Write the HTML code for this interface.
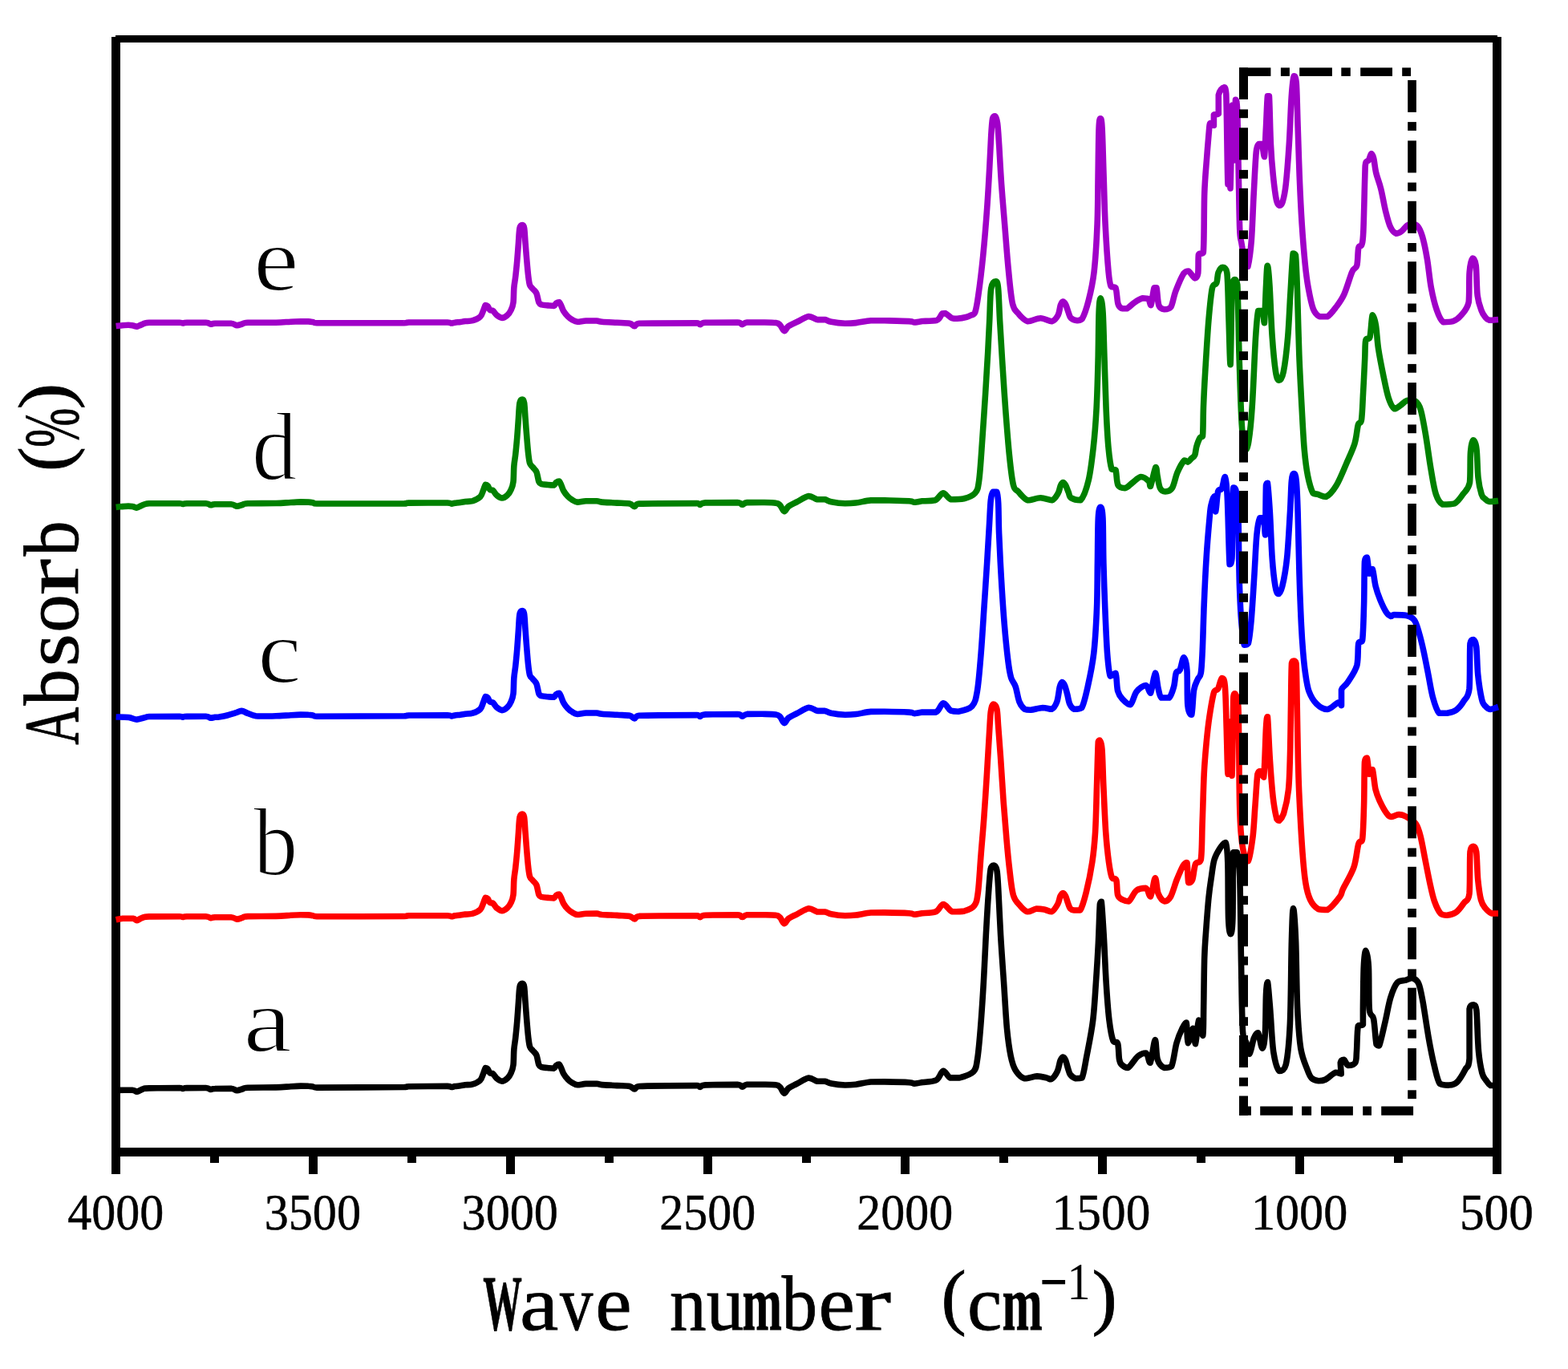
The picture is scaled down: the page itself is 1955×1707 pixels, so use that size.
<!DOCTYPE html>
<html><head><meta charset="utf-8"><title>FTIR spectra</title>
<style>html,body{margin:0;padding:0;background:#fff;}svg{display:block;}text{font-family:"Liberation Serif","Times New Roman",serif;}</style></head><body>
<svg width="1955" height="1707" viewBox="0 0 1955 1707">
<rect x="0" y="0" width="1955" height="1707" fill="#fff"/>
<g fill="#000">
<rect x="144" y="44" width="1723" height="9"/>
<rect x="139" y="46" width="11" height="1396"/>
<rect x="1861" y="46" width="11" height="1396"/>
<rect x="139" y="1431" width="1733" height="11"/>
<rect x="139.0" y="1442" width="11" height="22"/>
<rect x="262.0" y="1442" width="11" height="8"/>
<rect x="385.0" y="1442" width="11" height="22"/>
<rect x="508.0" y="1442" width="11" height="8"/>
<rect x="631.0" y="1442" width="11" height="22"/>
<rect x="754.0" y="1442" width="11" height="8"/>
<rect x="877.0" y="1442" width="11" height="22"/>
<rect x="1000.0" y="1442" width="11" height="8"/>
<rect x="1123.0" y="1442" width="11" height="22"/>
<rect x="1246.0" y="1442" width="11" height="8"/>
<rect x="1369.0" y="1442" width="11" height="22"/>
<rect x="1492.0" y="1442" width="11" height="8"/>
<rect x="1615.0" y="1442" width="11" height="22"/>
<rect x="1738.0" y="1442" width="11" height="8"/>
<rect x="1861.0" y="1442" width="11" height="22"/>
</g>
<g fill="#000" stroke="#000" stroke-width="0.5">
<text font-size="63" transform="translate(84.33 1532.88) scale(0.9528 1.0021)">4000</text>
<text font-size="63" transform="translate(329.72 1532.88) scale(0.9545 1.0021)">3500</text>
<text font-size="63" transform="translate(575.62 1532.88) scale(0.9545 1.0021)">3000</text>
<text font-size="63" transform="translate(822.37 1532.88) scale(0.9517 1.0021)">2500</text>
<text font-size="63" transform="translate(1068.37 1532.88) scale(0.9517 1.0021)">2000</text>
<text font-size="63" transform="translate(1311.61 1532.88) scale(0.9741 1.0021)">1500</text>
<text font-size="63" transform="translate(1559.91 1532.88) scale(0.9554 1.0021)">1000</text>
<text font-size="63" transform="translate(1819.94 1532.88) scale(0.9735 1.0021)">500</text>
</g>
<g fill="none" stroke-width="7.6" stroke-linejoin="round" stroke-linecap="butt">
<path stroke="#000000" d="M144.6 1359.4C148.0 1359.4 160.7 1359.2 165.0 1359.2C169.3 1359.5 168.5 1361.2 170.7 1361.2C172.9 1361.0 175.4 1358.7 178.0 1358.0C180.6 1357.3 178.3 1357.1 186.0 1356.9C193.7 1356.6 217.0 1356.5 224.0 1356.5C228.0 1356.6 226.5 1357.4 228.0 1357.4C229.5 1357.4 228.2 1356.7 233.0 1356.6C237.8 1356.5 251.6 1356.5 256.6 1356.5C261.6 1356.8 260.9 1358.3 262.8 1358.4C264.7 1358.4 263.8 1357.6 268.0 1357.5C272.2 1357.3 283.4 1357.3 288.0 1357.3C292.6 1357.7 293.2 1359.6 295.5 1359.7C297.8 1359.7 299.8 1358.6 302.0 1358.0C304.2 1357.4 302.0 1356.5 309.0 1356.2C316.0 1355.9 335.1 1356.1 344.0 1355.9C352.9 1355.6 357.4 1355.0 362.6 1354.7C367.8 1354.4 371.4 1354.2 375.0 1354.1C378.6 1354.1 382.0 1354.1 384.5 1354.3C387.0 1354.4 388.2 1354.7 390.0 1355.0C391.8 1355.3 390.0 1356.0 395.0 1356.1C414.0 1356.1 484.8 1355.7 504.0 1355.5C510.0 1355.3 504.0 1354.9 510.0 1354.7C519.0 1354.5 549.2 1354.4 558.0 1354.4C563.0 1354.6 561.5 1355.4 563.0 1355.5C564.5 1355.5 565.2 1354.9 567.0 1354.6C568.8 1354.3 571.8 1354.1 574.0 1353.8C576.2 1353.5 577.4 1353.2 580.0 1352.8C582.6 1352.5 586.3 1352.8 589.4 1351.8C592.5 1350.9 596.5 1349.0 598.7 1346.9C600.9 1344.7 601.4 1341.5 602.5 1339.0C603.6 1336.4 604.4 1332.6 605.3 1331.6C606.2 1331.6 607.2 1331.9 608.1 1332.9C609.0 1334.0 609.8 1336.9 610.9 1337.9C612.0 1338.9 613.3 1337.9 614.7 1338.9C616.1 1340.0 617.5 1343.2 619.4 1344.7C621.3 1346.3 623.7 1348.2 625.9 1348.2C628.1 1348.2 630.6 1346.4 632.5 1344.7C634.4 1342.9 636.0 1340.5 637.2 1337.7C638.5 1334.9 639.4 1332.9 640.0 1327.9C640.6 1323.0 640.4 1313.9 640.9 1308.2C641.4 1302.4 642.2 1299.2 642.8 1293.5C643.4 1287.7 644.1 1281.1 644.7 1273.7C645.3 1266.3 646.0 1256.4 646.5 1249.1C647.0 1241.9 647.2 1234.3 648.0 1230.5C648.8 1226.6 650.3 1226.3 651.2 1226.3C652.1 1226.3 653.0 1226.6 653.6 1230.4C654.2 1234.2 654.5 1241.9 655.0 1249.1C655.5 1256.3 656.3 1266.3 656.9 1273.7C657.5 1281.0 658.1 1288.1 658.7 1293.4C659.3 1298.6 659.7 1302.4 660.6 1305.1C661.5 1307.9 663.0 1308.3 664.4 1310.1C665.8 1311.8 667.8 1313.0 669.0 1315.9C670.2 1318.9 670.8 1325.3 671.9 1327.8C673.0 1330.2 673.7 1330.0 675.6 1330.7C677.5 1331.3 680.6 1331.3 683.1 1331.6C685.6 1331.8 688.9 1332.1 690.6 1332.1C692.3 1331.6 692.3 1329.4 693.4 1328.6C694.5 1327.7 696.1 1327.1 697.2 1327.1C698.3 1327.7 699.1 1330.5 700.0 1332.4C700.9 1334.4 701.4 1336.7 702.7 1338.9C704.0 1341.2 706.2 1344.0 708.0 1345.8C709.8 1347.7 711.3 1348.8 713.3 1350.0C715.3 1351.2 717.1 1352.6 720.0 1352.8C722.9 1352.8 726.6 1351.6 730.6 1351.4C734.6 1351.3 740.6 1351.3 743.9 1351.3C747.2 1351.5 746.3 1352.2 750.5 1352.6C754.7 1353.0 763.4 1353.2 769.2 1353.6C775.0 1353.9 781.5 1353.8 785.1 1354.5C788.8 1355.3 789.1 1357.9 791.1 1357.9C793.1 1357.9 791.1 1355.2 797.1 1354.5C810.1 1353.7 856.3 1353.6 868.9 1353.6C872.9 1353.8 871.1 1355.4 872.9 1355.4C874.7 1355.3 872.9 1353.4 879.5 1352.9C887.2 1352.4 911.8 1352.4 919.4 1352.4C925.4 1352.8 923.4 1355.1 925.4 1355.1C927.4 1355.1 927.3 1352.8 931.4 1352.3C935.5 1352.2 944.0 1352.2 950.0 1352.2C956.0 1352.3 963.5 1352.2 967.3 1352.8C971.1 1353.3 970.8 1353.8 972.6 1355.6C974.4 1357.3 976.1 1363.0 977.9 1363.2C979.7 1363.2 980.5 1358.9 983.2 1356.9C985.9 1354.9 989.7 1353.4 993.9 1351.2C998.1 1349.1 1004.3 1344.6 1008.5 1344.1C1012.7 1344.1 1015.9 1347.6 1019.2 1348.3C1022.5 1348.3 1025.6 1348.2 1028.5 1348.2C1031.4 1348.7 1032.2 1350.2 1036.4 1351.0C1040.6 1351.8 1048.6 1352.8 1053.7 1353.0C1058.8 1353.0 1061.7 1352.8 1067.0 1352.2C1072.3 1351.5 1079.7 1349.6 1085.7 1349.0C1091.7 1348.9 1094.9 1348.9 1102.9 1348.9C1110.9 1349.0 1127.3 1349.3 1133.5 1349.7C1139.7 1350.1 1137.5 1351.1 1140.2 1351.1C1142.9 1351.1 1147.9 1349.9 1149.5 1349.6C1150.0 1349.6 1149.5 1349.6 1150.0 1349.6C1153.0 1349.1 1163.1 1349.2 1167.4 1346.8C1171.8 1344.4 1173.2 1335.7 1176.1 1335.2C1179.0 1335.2 1181.4 1342.5 1184.8 1343.9C1188.2 1343.9 1191.6 1343.9 1196.4 1343.9C1201.2 1342.6 1210.1 1340.0 1213.8 1336.1C1217.5 1332.2 1217.1 1329.7 1218.6 1320.7C1220.0 1311.7 1221.2 1298.1 1222.5 1282.0C1223.8 1265.9 1225.3 1243.3 1226.4 1224.0C1227.5 1204.7 1228.3 1183.7 1229.3 1166.0C1230.3 1148.3 1231.2 1131.4 1232.2 1117.7C1233.2 1104.0 1234.0 1090.2 1235.1 1083.8C1236.2 1079.0 1237.6 1079.0 1238.9 1079.0C1240.2 1079.2 1241.8 1080.0 1242.8 1084.8C1243.8 1089.6 1243.9 1094.5 1244.7 1108.0C1245.5 1121.5 1246.5 1146.7 1247.6 1166.0C1248.7 1185.3 1250.2 1204.7 1251.5 1224.0C1252.8 1243.3 1254.0 1266.5 1255.4 1282.0C1256.9 1297.5 1258.4 1308.1 1260.2 1316.8C1262.0 1325.5 1263.1 1329.5 1266.0 1334.2C1268.9 1338.9 1273.1 1343.5 1277.6 1344.8C1282.1 1344.8 1288.6 1342.1 1293.1 1341.9C1297.6 1341.9 1301.8 1343.2 1304.7 1343.9C1307.6 1344.6 1308.2 1345.8 1310.5 1345.8C1312.8 1344.5 1316.3 1340.0 1318.2 1336.1C1320.1 1332.2 1320.8 1325.5 1322.0 1322.5C1323.2 1319.5 1324.2 1318.1 1325.3 1318.0C1326.4 1318.0 1327.6 1319.7 1328.6 1322.0C1329.6 1324.3 1330.5 1329.0 1331.5 1332.0C1332.5 1335.0 1332.8 1337.9 1334.5 1340.0C1336.2 1342.1 1339.0 1344.1 1341.4 1344.8C1343.8 1344.8 1346.8 1344.8 1349.1 1343.9C1351.3 1339.2 1352.6 1328.7 1354.9 1316.8C1357.2 1304.9 1360.8 1287.8 1362.7 1272.3C1364.6 1256.8 1365.4 1240.1 1366.5 1224.0C1367.6 1207.9 1368.6 1191.8 1369.4 1175.7C1370.2 1159.6 1370.8 1135.8 1371.4 1127.3C1372.1 1124.4 1372.5 1124.4 1373.3 1124.4C1374.1 1130.9 1375.2 1149.4 1376.2 1166.0C1377.2 1182.6 1378.0 1206.3 1379.1 1224.0C1380.2 1241.7 1381.5 1260.0 1383.0 1272.3C1384.5 1284.5 1386.0 1292.7 1387.8 1297.5C1389.6 1301.3 1392.3 1297.5 1393.6 1301.3C1394.9 1305.2 1394.7 1316.4 1395.5 1320.7C1396.3 1325.0 1396.4 1325.5 1398.2 1327.3C1400.0 1329.1 1403.0 1331.4 1406.4 1331.4C1409.8 1329.7 1414.9 1320.2 1418.7 1317.1C1422.5 1314.0 1426.4 1313.0 1429.0 1313.0C1431.6 1314.4 1432.2 1325.3 1434.1 1325.3C1436.0 1322.6 1438.7 1297.3 1440.2 1296.6C1441.7 1296.6 1441.4 1315.4 1443.3 1321.2C1445.2 1327.0 1448.6 1330.0 1451.5 1331.4C1454.4 1331.4 1458.1 1331.4 1460.7 1329.4C1463.3 1324.3 1464.7 1308.6 1466.9 1300.7C1469.1 1292.8 1472.0 1286.5 1474.1 1282.2C1476.1 1277.9 1478.0 1275.0 1479.2 1275.0C1480.4 1278.1 1479.8 1299.5 1481.2 1300.7C1482.6 1300.7 1485.9 1282.2 1487.4 1282.2C1489.0 1282.4 1489.3 1301.7 1490.5 1301.7C1491.7 1300.0 1493.1 1273.7 1494.6 1272.0C1496.1 1272.0 1498.7 1291.4 1499.7 1291.4C1500.7 1288.7 1500.4 1271.8 1500.7 1255.6C1501.0 1239.4 1501.2 1209.4 1501.7 1194.0C1502.2 1178.6 1502.6 1175.5 1503.5 1163.0C1504.4 1150.5 1505.8 1130.8 1507.0 1119.1C1508.2 1107.4 1509.3 1100.6 1510.5 1092.7C1511.7 1084.8 1512.3 1077.4 1514.1 1071.6C1515.9 1065.8 1518.8 1061.1 1521.1 1057.6C1523.4 1054.1 1526.5 1050.5 1528.1 1050.5C1529.7 1053.4 1530.2 1059.3 1530.8 1075.1C1531.4 1090.9 1531.0 1130.5 1531.6 1145.4C1532.2 1160.4 1533.4 1164.8 1534.3 1164.8C1535.2 1164.8 1536.3 1162.4 1536.9 1145.4C1537.5 1128.4 1536.9 1076.6 1537.8 1062.8C1538.7 1062.8 1540.9 1062.8 1542.2 1062.8C1543.5 1067.8 1544.8 1069.8 1545.7 1092.7C1546.6 1115.6 1546.9 1167.8 1547.5 1200.0C1548.1 1232.2 1548.4 1269.3 1549.5 1286.0C1550.6 1300.0 1552.5 1295.3 1553.9 1300.0C1555.3 1304.7 1556.4 1314.2 1558.0 1314.2C1559.6 1313.3 1561.5 1299.2 1563.3 1294.8C1565.0 1290.4 1566.8 1287.8 1568.5 1287.8C1570.2 1289.8 1572.3 1306.8 1573.8 1307.1C1575.3 1307.1 1576.5 1300.8 1577.3 1289.6C1578.1 1278.4 1578.0 1250.8 1578.5 1240.0C1579.0 1229.2 1579.8 1224.5 1580.5 1224.5C1581.2 1226.2 1582.3 1242.7 1583.0 1250.0C1583.7 1257.3 1583.6 1258.1 1584.4 1268.5C1585.2 1278.9 1586.1 1301.2 1587.9 1312.4C1589.7 1323.6 1592.4 1333.0 1595.0 1335.5C1597.6 1335.5 1601.1 1335.5 1603.3 1327.3C1605.5 1317.4 1607.2 1301.6 1608.4 1276.0C1609.6 1250.4 1609.7 1197.4 1610.4 1173.5C1611.1 1149.6 1611.6 1132.5 1612.5 1132.5C1613.4 1132.5 1614.8 1153.0 1615.6 1173.5C1616.4 1194.0 1616.6 1233.4 1617.6 1255.6C1618.6 1277.8 1619.7 1293.8 1621.7 1306.8C1623.8 1319.8 1627.6 1327.2 1629.9 1333.5C1632.2 1339.8 1632.9 1341.9 1635.3 1344.3C1637.7 1346.7 1641.2 1347.5 1644.1 1347.8C1647.0 1347.8 1649.3 1347.8 1652.8 1346.0C1656.3 1344.2 1661.9 1338.5 1665.1 1337.3C1668.3 1337.3 1671.2 1339.0 1672.2 1339.0C1672.2 1337.0 1671.3 1327.9 1671.3 1325.0C1671.9 1322.1 1674.1 1321.4 1675.7 1321.4C1677.3 1322.0 1678.7 1327.9 1681.0 1328.5C1683.3 1328.5 1688.0 1327.9 1689.8 1325.0C1691.5 1322.1 1690.9 1318.5 1691.5 1310.9C1692.1 1303.3 1692.0 1284.9 1693.3 1279.3C1694.6 1277.5 1698.4 1279.3 1699.4 1277.5C1699.4 1274.0 1699.4 1270.2 1699.4 1258.2C1699.6 1246.2 1699.7 1217.6 1700.3 1205.4C1700.9 1193.2 1701.9 1185.2 1702.9 1185.2C1703.9 1185.2 1705.7 1193.2 1706.4 1205.4C1707.1 1217.6 1706.4 1247.4 1707.3 1258.2C1708.3 1269.0 1711.1 1263.2 1712.6 1270.5C1714.1 1277.8 1714.9 1296.5 1716.1 1302.1C1717.3 1303.9 1717.8 1303.9 1719.6 1303.9C1721.4 1299.5 1724.3 1285.7 1726.7 1275.7C1729.1 1265.7 1731.1 1252.6 1733.7 1244.1C1736.3 1235.6 1739.3 1228.5 1742.5 1224.8C1745.7 1222.1 1749.9 1223.0 1753.0 1222.1C1756.1 1221.2 1758.3 1219.5 1760.9 1219.5C1763.5 1220.2 1766.6 1221.5 1768.8 1226.5C1771.0 1231.5 1772.0 1238.3 1774.1 1249.4C1776.1 1260.5 1778.8 1280.1 1781.1 1293.3C1783.4 1306.5 1785.8 1318.8 1788.2 1328.5C1790.6 1338.2 1792.3 1347.2 1795.2 1351.3C1798.1 1353.1 1802.2 1353.1 1805.7 1353.1C1809.2 1352.8 1812.8 1352.8 1816.3 1349.6C1819.8 1346.4 1824.2 1338.7 1826.8 1333.7C1829.4 1328.7 1831.2 1332.3 1832.1 1319.7C1832.1 1307.1 1832.1 1269.3 1832.1 1258.2C1833.0 1252.9 1835.9 1252.9 1837.4 1252.9C1838.9 1253.2 1839.9 1252.9 1840.9 1259.9C1841.9 1269.6 1842.3 1297.9 1843.5 1310.9C1844.7 1323.9 1846.4 1332.0 1847.9 1338.0C1849.5 1344.0 1851.0 1344.4 1852.8 1347.0C1854.6 1349.6 1856.3 1352.4 1858.5 1353.5C1860.7 1353.5 1864.8 1353.5 1866.0 1353.5"/>
<path stroke="#ff0000" d="M144.6 1146.8C146.0 1146.5 149.4 1145.5 153.0 1145.2C156.6 1145.2 163.1 1145.2 166.0 1145.2C168.9 1145.6 168.9 1147.6 170.7 1147.6C172.5 1147.5 174.2 1145.4 176.8 1144.6C179.4 1143.8 178.1 1143.2 186.0 1142.9C193.9 1142.7 217.0 1142.7 224.0 1142.7C228.0 1142.8 226.5 1143.5 228.0 1143.5C229.5 1143.5 228.2 1142.9 233.0 1142.8C237.8 1142.7 251.6 1142.7 256.6 1142.7C261.6 1143.0 260.9 1144.5 262.8 1144.7C264.7 1144.7 263.8 1143.9 268.0 1143.7C272.2 1143.7 283.4 1143.7 288.0 1143.7C292.6 1144.1 293.2 1145.9 295.5 1146.1C297.8 1146.1 299.8 1145.0 302.0 1144.4C304.2 1143.8 302.0 1142.9 309.0 1142.6C316.0 1142.4 335.1 1142.6 344.0 1142.4C352.9 1142.2 357.4 1141.6 362.6 1141.3C367.8 1141.0 371.4 1140.8 375.0 1140.8C378.6 1140.8 382.0 1140.8 384.5 1140.9C387.0 1141.1 388.2 1141.4 390.0 1141.7C391.8 1142.0 390.0 1142.6 395.0 1142.8C414.0 1142.8 484.8 1142.7 504.0 1142.5C510.0 1142.4 504.0 1141.9 510.0 1141.8C519.0 1141.7 549.2 1141.7 558.0 1141.7C563.0 1141.8 561.5 1142.7 563.0 1142.7C564.5 1142.7 565.2 1142.1 567.0 1141.8C568.8 1141.6 571.8 1141.4 574.0 1141.1C576.2 1140.8 577.4 1140.5 580.0 1140.1C582.6 1139.8 586.3 1140.1 589.4 1139.2C592.5 1138.2 596.5 1136.4 598.7 1134.3C600.9 1132.2 601.4 1129.0 602.5 1126.5C603.6 1124.0 604.4 1120.2 605.3 1119.2C606.2 1119.2 607.2 1119.5 608.1 1120.5C609.0 1121.6 609.8 1124.4 610.9 1125.4C612.0 1126.4 613.3 1125.4 614.7 1126.4C616.1 1127.6 617.5 1130.7 619.4 1132.3C621.3 1133.8 623.7 1135.7 625.9 1135.7C628.1 1135.7 630.6 1133.9 632.5 1132.2C634.4 1130.5 636.0 1128.1 637.2 1125.3C638.5 1122.6 639.4 1120.5 640.0 1115.7C640.6 1110.8 640.4 1101.8 640.9 1096.1C641.4 1090.4 642.2 1087.2 642.8 1081.5C643.4 1075.9 644.1 1069.3 644.7 1062.0C645.3 1054.7 646.0 1044.8 646.5 1037.6C647.0 1030.5 647.2 1022.9 648.0 1019.1C648.8 1015.4 650.3 1015.1 651.2 1015.1C652.1 1015.1 653.0 1015.4 653.6 1019.1C654.2 1022.9 654.5 1030.5 655.0 1037.6C655.5 1044.8 656.3 1054.6 656.9 1062.0C657.5 1069.3 658.1 1076.3 658.7 1081.5C659.3 1086.7 659.7 1090.4 660.6 1093.1C661.5 1095.9 663.0 1096.2 664.4 1098.0C665.8 1099.8 667.8 1100.9 669.0 1103.8C670.2 1106.8 670.8 1113.1 671.9 1115.6C673.0 1118.0 673.7 1117.9 675.6 1118.5C677.5 1119.1 680.6 1119.2 683.1 1119.4C685.6 1119.6 688.9 1119.9 690.6 1119.9C692.3 1119.4 692.3 1117.3 693.4 1116.5C694.5 1115.6 696.1 1115.0 697.2 1115.0C698.3 1115.6 699.1 1118.3 700.0 1120.3C700.9 1122.3 701.4 1124.5 702.7 1126.7C704.0 1129.0 706.2 1131.8 708.0 1133.6C709.8 1135.4 711.3 1136.6 713.3 1137.7C715.3 1138.9 717.1 1140.3 720.0 1140.5C722.9 1140.5 726.6 1139.4 730.6 1139.2C734.6 1139.1 740.6 1139.1 743.9 1139.1C747.2 1139.3 746.3 1140.1 750.5 1140.5C754.7 1140.8 763.4 1141.1 769.2 1141.4C775.0 1141.8 781.5 1141.7 785.1 1142.4C788.8 1143.2 789.1 1145.9 791.1 1145.9C793.1 1145.9 791.1 1143.1 797.1 1142.4C810.1 1141.8 856.3 1141.8 868.9 1141.8C872.9 1142.0 871.1 1143.6 872.9 1143.6C874.7 1143.5 872.9 1141.6 879.5 1141.2C887.2 1140.8 911.8 1140.8 919.4 1140.8C925.4 1141.1 923.4 1143.5 925.4 1143.5C927.4 1143.4 927.3 1141.2 931.4 1140.7C935.5 1140.7 944.0 1140.7 950.0 1140.7C956.0 1140.8 963.5 1140.7 967.3 1141.3C971.1 1141.8 970.8 1142.3 972.6 1144.1C974.4 1145.8 976.1 1151.4 977.9 1151.6C979.7 1151.6 980.5 1147.4 983.2 1145.4C985.9 1143.4 989.7 1141.9 993.9 1139.8C998.1 1137.8 1004.3 1133.3 1008.5 1132.8C1012.7 1132.8 1015.9 1136.3 1019.2 1137.0C1022.5 1137.0 1025.6 1137.0 1028.5 1137.0C1031.4 1137.4 1032.2 1138.9 1036.4 1139.7C1040.6 1140.5 1048.6 1141.6 1053.7 1141.8C1058.8 1141.8 1061.7 1141.7 1067.0 1141.0C1072.3 1140.4 1079.7 1138.5 1085.7 1138.0C1091.7 1137.9 1094.9 1137.9 1102.9 1137.9C1110.9 1138.0 1127.3 1138.4 1133.5 1138.8C1139.7 1139.2 1137.5 1140.2 1140.2 1140.2C1142.9 1140.2 1147.9 1139.0 1149.5 1138.7C1150.0 1138.7 1149.5 1138.7 1150.0 1138.7C1152.9 1138.4 1162.5 1138.7 1166.9 1136.8C1171.3 1134.9 1172.8 1127.5 1176.2 1127.5C1179.6 1127.5 1183.1 1135.4 1187.5 1136.8C1191.9 1136.8 1198.0 1136.8 1202.5 1135.9C1207.0 1134.7 1211.9 1133.2 1214.7 1129.3C1217.5 1125.4 1218.0 1123.1 1219.4 1112.5C1220.8 1101.9 1221.8 1081.2 1223.1 1065.6C1224.3 1050.0 1225.7 1035.9 1226.9 1018.7C1228.2 1001.5 1229.5 979.7 1230.6 962.5C1231.7 945.3 1232.6 928.1 1233.4 915.6C1234.2 903.1 1234.5 893.8 1235.3 887.5C1236.1 881.2 1236.8 878.7 1238.1 878.1C1239.3 878.1 1241.7 879.0 1242.8 883.7C1243.9 888.4 1243.9 896.2 1244.7 906.2C1245.5 916.2 1246.4 928.1 1247.5 943.7C1248.6 959.3 1250.0 982.8 1251.2 1000.0C1252.5 1017.2 1253.8 1032.8 1255.0 1046.8C1256.2 1060.8 1257.3 1072.7 1258.7 1084.3C1260.1 1095.9 1261.2 1108.7 1263.4 1116.2C1265.6 1123.7 1268.9 1125.9 1271.9 1129.3C1274.9 1132.7 1277.8 1136.2 1281.2 1136.8C1284.6 1136.8 1289.0 1133.6 1292.5 1133.1C1296.0 1133.1 1298.8 1133.4 1301.9 1134.0C1305.0 1134.6 1308.4 1136.8 1311.2 1136.8C1314.0 1135.7 1316.9 1130.7 1318.7 1127.5C1320.5 1124.3 1320.9 1119.8 1322.0 1117.5C1323.1 1115.2 1324.2 1113.5 1325.3 1113.5C1326.4 1113.5 1327.6 1115.4 1328.6 1117.5C1329.6 1119.6 1330.5 1123.4 1331.5 1126.0C1332.5 1128.6 1333.2 1131.5 1334.5 1133.0C1335.8 1134.5 1337.2 1134.7 1339.3 1135.0C1341.3 1135.0 1344.3 1135.0 1346.8 1135.0C1349.3 1131.2 1351.8 1122.5 1354.3 1112.5C1356.8 1102.5 1359.9 1087.5 1361.8 1075.0C1363.7 1062.5 1364.6 1053.1 1365.6 1037.5C1366.5 1021.9 1366.9 1000.0 1367.5 981.2C1368.1 962.5 1368.7 934.7 1369.3 925.0C1369.9 923.1 1370.4 923.1 1371.2 923.1C1372.0 924.7 1373.2 924.7 1374.0 934.4C1374.8 944.1 1375.1 964.0 1375.9 981.2C1376.7 998.4 1377.6 1021.9 1378.7 1037.5C1379.8 1053.1 1381.2 1065.6 1382.5 1075.0C1383.8 1084.4 1384.7 1090.0 1386.2 1093.7C1387.8 1097.5 1390.5 1093.8 1391.8 1097.5C1393.0 1101.2 1392.4 1112.1 1393.7 1116.2C1395.0 1120.3 1397.4 1120.6 1399.7 1121.9C1402.0 1123.2 1404.5 1123.9 1407.4 1123.9C1410.3 1122.0 1413.5 1113.0 1417.1 1110.3C1420.6 1107.5 1425.8 1107.4 1428.7 1107.4C1431.6 1108.7 1432.6 1118.0 1434.5 1118.0C1436.4 1115.9 1438.7 1095.5 1440.3 1094.9C1441.9 1094.9 1442.2 1109.4 1444.1 1114.2C1446.0 1119.0 1449.3 1123.3 1451.9 1123.9C1454.5 1123.9 1457.0 1122.5 1459.6 1118.0C1462.2 1113.5 1464.7 1103.2 1467.3 1096.8C1469.9 1090.4 1473.0 1083.0 1475.1 1079.4C1477.2 1075.9 1478.8 1075.5 1479.9 1075.5C1481.0 1079.0 1480.7 1097.2 1481.8 1100.7C1482.9 1100.7 1485.2 1100.7 1486.7 1096.8C1488.2 1092.9 1488.7 1081.7 1490.5 1077.5C1492.3 1073.3 1495.8 1077.5 1497.3 1071.7C1498.8 1062.7 1498.5 1041.0 1499.2 1023.3C1499.9 1005.6 1500.4 981.4 1501.2 965.3C1502.0 949.2 1503.0 938.6 1504.1 926.7C1505.2 914.8 1506.3 904.4 1507.9 893.8C1509.5 883.2 1511.9 868.7 1513.7 862.9C1515.5 859.0 1517.0 861.9 1518.6 859.0C1520.2 856.1 1522.0 846.1 1523.4 845.5C1524.9 845.5 1526.3 845.5 1527.3 855.1C1528.3 865.4 1528.6 888.9 1529.2 907.3C1529.8 925.7 1530.4 965.3 1531.1 965.3C1531.8 964.1 1532.7 900.0 1533.5 900.0C1534.3 900.3 1535.3 967.3 1536.0 967.3C1536.7 962.1 1537.3 885.8 1537.9 868.7C1538.5 864.8 1538.8 864.8 1539.8 864.8C1540.8 866.4 1542.9 868.0 1543.7 878.3C1544.5 888.6 1544.4 905.8 1544.7 926.7C1545.0 947.7 1545.1 984.7 1545.6 1004.0C1546.1 1023.3 1546.6 1032.4 1547.6 1042.7C1548.6 1053.0 1550.0 1060.8 1551.4 1065.9C1552.9 1071.1 1554.5 1073.6 1556.3 1073.6C1558.1 1069.7 1560.6 1054.3 1562.1 1042.7C1563.5 1031.1 1564.0 1016.9 1565.0 1004.0C1566.0 991.1 1566.9 972.4 1567.9 965.3C1568.9 961.5 1569.5 961.5 1570.8 961.5C1572.1 962.1 1574.3 969.2 1575.6 969.2C1576.9 960.2 1577.7 919.9 1578.5 907.3C1579.3 894.7 1579.6 893.8 1580.4 893.8C1581.2 900.2 1582.2 929.2 1583.3 946.0C1584.4 962.8 1585.8 981.7 1587.2 994.3C1588.7 1006.9 1590.7 1016.6 1592.0 1021.4C1593.3 1023.3 1593.5 1023.3 1594.9 1023.3C1596.4 1022.0 1598.8 1020.1 1600.7 1013.7C1602.6 1007.3 1605.2 997.0 1606.5 984.7C1607.8 972.4 1608.0 957.5 1608.5 940.0C1609.0 922.5 1609.2 898.8 1609.5 880.0C1609.8 861.2 1609.9 836.3 1610.5 827.0C1611.1 824.0 1612.1 824.0 1613.0 824.0C1613.9 824.0 1615.3 824.0 1616.0 827.0C1616.7 836.3 1616.8 859.5 1617.2 880.0C1617.6 900.5 1618.0 931.0 1618.5 950.0C1619.0 969.0 1619.1 975.6 1620.0 994.3C1620.9 1013.0 1622.6 1044.3 1623.9 1062.0C1625.2 1079.7 1626.2 1090.7 1627.8 1100.7C1629.4 1110.7 1631.0 1116.4 1633.6 1121.9C1636.2 1127.4 1639.9 1131.4 1643.5 1133.5C1647.1 1134.5 1650.6 1134.5 1655.1 1134.5C1659.6 1131.9 1667.4 1122.3 1670.6 1118.0C1673.8 1113.7 1671.6 1114.5 1674.5 1108.4C1677.4 1102.3 1684.8 1090.7 1688.0 1081.3C1691.2 1071.9 1692.0 1058.1 1693.8 1052.3C1695.6 1046.5 1697.5 1052.3 1698.6 1046.5C1699.7 1038.5 1700.1 1020.1 1700.6 1004.0C1701.1 987.9 1700.9 959.7 1701.5 949.9C1702.1 945.0 1703.4 945.0 1704.4 945.0C1705.4 947.6 1706.2 962.9 1707.3 965.3C1708.4 965.3 1709.9 959.5 1711.2 959.5C1712.5 962.7 1713.5 977.9 1715.1 984.7C1716.7 991.5 1718.7 995.3 1720.9 1000.1C1723.2 1004.9 1726.3 1010.6 1728.6 1013.7C1730.8 1016.8 1731.8 1018.2 1734.4 1018.5C1737.0 1018.5 1740.9 1015.6 1744.1 1015.6C1747.3 1015.6 1750.2 1016.6 1753.7 1018.5C1757.2 1020.4 1762.4 1023.2 1765.3 1027.2C1768.2 1031.2 1769.2 1035.3 1771.1 1042.7C1773.0 1050.1 1775.0 1062.0 1776.9 1071.7C1778.8 1081.4 1780.8 1092.0 1782.7 1100.7C1784.6 1109.4 1786.2 1117.5 1788.5 1123.9C1790.8 1130.3 1793.7 1136.4 1796.3 1139.3C1798.9 1141.3 1800.8 1141.3 1804.0 1141.3C1807.2 1141.0 1812.0 1140.0 1815.6 1137.4C1819.1 1134.8 1822.6 1129.7 1825.3 1125.8C1828.0 1121.9 1830.7 1124.8 1832.0 1114.2C1833.0 1103.6 1832.2 1071.8 1833.0 1062.0C1833.8 1055.2 1835.6 1055.2 1836.9 1055.2C1838.2 1055.2 1839.7 1055.2 1840.7 1062.0C1841.7 1068.9 1841.7 1086.8 1842.7 1096.8C1843.7 1106.8 1845.0 1116.0 1846.5 1122.0C1848.0 1128.0 1849.8 1129.7 1852.0 1132.5C1854.2 1135.3 1857.3 1137.9 1860.0 1139.0C1862.7 1139.0 1866.7 1139.0 1868.0 1139.0"/>
<path stroke="#0000ff" d="M144.6 894.0C147.2 894.1 156.2 894.1 160.5 894.6C164.8 895.1 167.3 897.1 170.7 897.1C174.1 897.1 178.4 895.2 181.0 894.6C183.6 894.0 181.0 893.8 186.0 893.5C193.2 893.3 217.0 893.3 224.0 893.3C228.0 893.4 226.5 894.1 228.0 894.1C229.5 894.1 228.2 893.5 233.0 893.4C237.8 893.3 251.6 893.3 256.6 893.3C261.6 893.6 260.9 895.1 262.8 895.3C264.7 895.3 266.3 894.5 268.0 894.3C269.7 894.1 270.5 894.3 273.0 894.0C275.5 893.6 279.8 892.9 283.2 892.0C286.6 891.1 290.5 889.8 293.5 888.9C296.5 888.0 298.6 886.4 301.1 886.4C303.7 886.5 305.8 888.3 308.8 889.4C311.8 890.5 314.7 892.1 319.0 892.7C323.3 893.0 330.2 893.0 334.4 893.0C338.6 893.0 339.3 893.0 344.0 892.8C348.7 892.6 357.4 892.0 362.6 891.7C367.8 891.4 371.4 891.2 375.0 891.1C378.6 891.1 382.0 891.1 384.5 891.3C387.0 891.4 388.2 891.7 390.0 892.0C391.8 892.3 390.0 893.1 395.0 893.2C414.0 893.2 484.8 893.0 504.0 892.8C510.0 892.6 504.0 892.2 510.0 892.0C519.0 891.8 549.2 891.8 558.0 891.8C563.0 892.0 561.5 892.8 563.0 892.9C564.5 892.9 565.2 892.3 567.0 892.0C568.8 891.7 571.8 891.5 574.0 891.2C576.2 890.9 577.4 890.6 580.0 890.2C582.6 889.9 586.3 890.2 589.4 889.2C592.5 888.2 596.5 886.4 598.7 884.2C600.9 882.0 601.4 878.7 602.5 876.1C603.6 873.5 604.4 869.7 605.3 868.6C606.2 868.6 607.2 868.9 608.1 870.0C609.0 871.1 609.8 874.0 610.9 875.0C612.0 876.0 613.3 875.0 614.7 876.1C616.1 877.3 617.5 880.5 619.4 882.1C621.3 883.6 623.7 885.6 625.9 885.6C628.1 885.6 630.6 883.8 632.5 882.0C634.4 880.2 636.0 877.8 637.2 874.9C638.5 872.1 639.4 870.0 640.0 865.0C640.6 860.0 640.4 850.7 640.9 844.9C641.4 839.0 642.2 835.7 642.8 829.9C643.4 824.0 644.1 817.3 644.7 809.7C645.3 802.2 646.0 792.0 646.5 784.7C647.0 777.3 647.2 769.5 648.0 765.6C648.8 761.8 650.3 761.5 651.2 761.5C652.1 761.5 653.0 761.8 653.6 765.6C654.2 769.5 654.5 777.3 655.0 784.7C655.5 792.0 656.3 802.2 656.9 809.7C657.5 817.2 658.1 824.5 658.7 829.8C659.3 835.2 659.7 838.9 660.6 841.8C661.5 844.6 663.0 845.0 664.4 846.8C665.8 848.6 667.8 849.8 669.0 852.8C670.2 855.8 670.8 862.3 671.9 864.9C673.0 867.4 673.7 867.2 675.6 867.8C677.5 868.5 680.6 868.5 683.1 868.8C685.6 869.0 688.9 869.3 690.6 869.3C692.3 868.8 692.3 866.6 693.4 865.7C694.5 864.9 696.1 864.2 697.2 864.2C698.3 864.9 699.1 867.7 700.0 869.7C700.9 871.7 701.4 874.0 702.7 876.3C704.0 878.6 706.2 881.4 708.0 883.3C709.8 885.2 711.3 886.4 713.3 887.6C715.3 888.8 717.1 890.2 720.0 890.5C722.9 890.5 726.6 889.3 730.6 889.0C734.6 889.0 740.6 889.0 743.9 889.0C747.2 889.2 746.3 889.9 750.5 890.3C754.7 890.7 763.4 891.0 769.2 891.3C775.0 891.7 781.5 891.6 785.1 892.3C788.8 893.1 789.1 895.9 791.1 895.9C793.1 895.8 791.1 893.0 797.1 892.3C810.1 891.6 856.3 891.6 868.9 891.6C872.9 891.8 871.1 893.4 872.9 893.4C874.7 893.3 872.9 891.4 879.5 890.9C887.2 890.5 911.8 890.5 919.4 890.5C925.4 890.8 923.4 893.2 925.4 893.2C927.4 893.2 927.3 890.9 931.4 890.4C935.5 890.3 944.0 890.3 950.0 890.3C956.0 890.4 963.5 890.3 967.3 890.9C971.1 891.5 970.8 892.0 972.6 893.8C974.4 895.6 976.1 901.3 977.9 901.6C979.7 901.6 980.5 897.2 983.2 895.1C985.9 893.1 989.7 891.6 993.9 889.4C998.1 887.3 1004.3 882.7 1008.5 882.2C1012.7 882.2 1015.9 885.7 1019.2 886.4C1022.5 886.4 1025.6 886.4 1028.5 886.4C1031.4 886.9 1032.2 888.4 1036.4 889.3C1040.6 890.1 1048.6 891.1 1053.7 891.3C1058.8 891.3 1061.7 891.2 1067.0 890.5C1072.3 889.9 1079.7 887.9 1085.7 887.4C1091.7 887.3 1094.9 887.3 1102.9 887.3C1110.9 887.4 1127.3 887.8 1133.5 888.1C1139.7 888.5 1137.5 889.6 1140.2 889.6C1142.9 889.6 1147.9 888.3 1149.5 888.1C1150.0 888.1 1149.5 888.1 1150.0 888.1C1152.9 888.1 1162.5 888.1 1166.9 888.1C1171.3 886.2 1173.1 877.1 1176.2 876.8C1179.3 876.8 1182.5 884.5 1185.6 886.2C1188.7 887.2 1190.6 887.2 1195.0 887.2C1199.4 886.3 1208.0 884.8 1211.9 880.6C1215.8 876.4 1216.5 872.7 1218.4 861.8C1220.3 850.9 1221.7 832.2 1223.1 815.0C1224.5 797.8 1225.7 777.5 1226.9 758.7C1228.2 740.0 1229.5 719.7 1230.6 702.5C1231.7 685.3 1232.6 668.7 1233.4 655.6C1234.2 642.5 1234.5 630.7 1235.3 623.7C1236.1 616.7 1236.8 615.1 1238.1 613.4C1239.3 613.4 1241.7 613.4 1242.8 613.4C1243.9 615.8 1244.2 618.9 1244.7 627.5C1245.2 636.1 1245.0 649.4 1245.6 665.0C1246.2 680.6 1247.3 702.5 1248.4 721.2C1249.5 740.0 1250.8 760.3 1252.2 777.5C1253.6 794.7 1255.5 813.0 1256.9 824.3C1258.3 835.5 1259.0 839.7 1260.6 845.0C1262.1 850.3 1264.5 851.2 1266.2 856.2C1267.9 861.2 1269.0 870.3 1270.9 875.0C1272.8 879.7 1275.2 882.6 1277.5 884.3C1279.8 885.3 1281.2 885.3 1285.0 885.3C1288.8 885.0 1295.6 882.7 1300.0 882.5C1304.4 882.5 1308.2 884.3 1311.2 884.3C1314.2 883.0 1316.1 879.6 1317.8 875.0C1319.5 870.4 1320.2 860.6 1321.3 856.5C1322.4 852.4 1323.2 850.8 1324.3 850.5C1325.3 850.5 1326.5 852.4 1327.6 855.0C1328.7 857.6 1329.8 862.2 1330.8 866.0C1331.8 869.8 1332.4 875.0 1333.8 878.0C1335.2 881.0 1336.8 883.5 1339.3 884.3C1341.8 884.3 1345.9 884.3 1348.7 882.5C1351.5 877.8 1353.7 867.5 1356.2 856.2C1358.7 845.0 1361.8 831.2 1363.7 815.0C1365.6 798.8 1366.7 777.5 1367.5 758.7C1368.3 740.0 1368.1 721.2 1368.4 702.5C1368.7 683.8 1368.7 657.9 1369.3 646.2C1369.9 634.5 1371.2 632.2 1372.2 632.2C1373.2 632.2 1374.4 634.5 1375.0 646.2C1375.6 657.9 1375.4 683.8 1375.9 702.5C1376.4 721.2 1377.0 740.0 1377.8 758.7C1378.6 777.5 1379.5 800.9 1380.6 815.0C1381.7 829.1 1382.6 839.1 1384.3 843.1C1386.0 843.1 1389.3 839.3 1390.9 839.3C1392.5 842.4 1392.2 856.4 1393.7 861.8C1395.2 867.2 1397.1 869.1 1399.7 871.9C1402.3 874.7 1406.4 878.7 1409.3 878.7C1412.2 877.1 1413.9 866.3 1417.1 862.3C1420.3 858.3 1425.8 854.5 1428.7 854.5C1431.6 854.8 1432.6 864.2 1434.5 864.2C1436.4 861.6 1438.7 840.1 1440.3 839.1C1441.9 839.1 1442.8 853.2 1444.1 858.4C1445.4 863.5 1445.7 868.1 1448.0 870.0C1450.3 870.0 1455.1 870.0 1457.7 870.0C1460.3 867.8 1462.0 861.6 1463.5 856.5C1465.0 851.4 1465.1 842.6 1466.4 839.1C1467.7 835.6 1469.6 838.4 1471.2 835.2C1472.8 832.0 1474.5 819.7 1476.0 819.7C1477.5 819.7 1479.1 825.2 1479.9 835.2C1480.7 845.2 1479.9 870.2 1480.9 879.6C1481.9 889.0 1484.4 891.3 1485.7 891.3C1487.0 888.1 1487.3 867.7 1488.6 860.3C1489.9 852.9 1492.0 850.3 1493.4 846.8C1494.9 843.3 1496.3 844.9 1497.3 839.1C1498.3 833.3 1498.5 826.2 1499.2 812.0C1499.9 797.8 1500.4 773.3 1501.2 754.0C1502.0 734.7 1503.0 713.7 1504.1 696.0C1505.2 678.3 1506.9 658.7 1507.9 647.7C1508.9 636.8 1508.9 635.1 1509.9 630.3C1510.9 625.5 1512.7 618.7 1513.7 618.7C1514.7 620.0 1514.9 638.0 1515.7 638.0C1516.5 637.0 1517.3 617.7 1518.6 612.9C1519.9 609.0 1522.0 612.1 1523.4 609.0C1524.9 605.9 1526.2 594.5 1527.3 594.5C1528.4 596.1 1529.2 600.5 1530.2 618.7C1531.2 636.9 1532.1 690.8 1533.1 703.7C1534.1 703.7 1535.2 703.7 1536.0 696.0C1536.8 680.0 1537.1 622.2 1537.9 608.0C1538.7 608.0 1539.8 608.0 1540.8 610.9C1541.8 615.9 1543.0 623.8 1543.7 638.0C1544.4 652.2 1544.4 679.9 1544.7 696.0C1545.0 712.1 1545.1 721.8 1545.6 734.7C1546.1 747.6 1546.6 761.7 1547.6 773.3C1548.6 784.9 1550.0 799.5 1551.4 804.3C1552.9 804.3 1554.8 804.3 1556.3 802.3C1557.8 797.1 1558.8 787.8 1560.1 773.3C1561.4 758.8 1562.9 733.0 1564.0 715.3C1565.1 697.6 1565.8 678.6 1566.9 667.0C1568.0 655.4 1569.3 649.2 1570.8 645.7C1572.2 645.7 1574.5 645.7 1575.6 645.7C1576.7 649.2 1577.0 667.0 1577.5 667.0C1578.0 660.2 1578.0 615.9 1578.5 605.1C1579.0 602.2 1579.6 602.2 1580.4 602.2C1581.2 607.7 1582.3 622.4 1583.3 638.0C1584.3 653.6 1585.1 680.5 1586.2 696.0C1587.3 711.5 1588.7 723.4 1590.0 730.8C1591.3 738.2 1592.5 740.5 1594.0 740.5C1595.5 740.5 1597.0 738.2 1598.8 730.8C1600.6 723.4 1603.0 711.5 1604.6 696.0C1606.2 680.5 1607.5 654.1 1608.5 638.0C1609.5 621.9 1609.6 607.2 1610.4 599.3C1611.2 591.4 1612.3 590.6 1613.3 590.6C1614.3 590.6 1615.4 591.4 1616.2 599.3C1617.0 607.2 1617.5 618.7 1618.1 638.0C1618.7 657.3 1619.3 691.6 1620.0 715.3C1620.7 739.0 1621.7 763.9 1622.5 780.0C1623.3 796.1 1623.8 802.2 1624.6 812.0C1625.4 821.8 1626.2 830.3 1627.4 838.6C1628.6 846.9 1629.6 855.5 1632.0 862.0C1634.4 868.5 1637.8 874.0 1641.6 877.7C1645.4 881.5 1650.6 884.5 1655.1 884.5C1659.6 884.2 1665.8 876.6 1668.7 875.8C1671.6 875.8 1671.9 879.6 1672.5 879.6C1672.5 877.0 1672.5 865.1 1672.5 860.3C1673.8 855.5 1677.1 855.9 1680.3 850.7C1683.5 845.6 1689.7 837.5 1691.9 829.4C1693.8 821.3 1692.7 807.4 1693.8 802.3C1694.9 798.5 1697.5 802.3 1698.6 798.5C1699.7 790.5 1700.1 770.4 1700.6 754.0C1701.1 737.6 1700.9 709.7 1701.5 699.9C1702.1 695.0 1703.4 695.0 1704.4 695.0C1705.4 697.6 1706.2 712.9 1707.3 715.3C1708.4 715.3 1709.9 709.5 1711.2 709.5C1712.5 712.1 1713.5 724.3 1715.1 730.8C1716.7 737.2 1718.7 742.7 1720.9 748.2C1723.2 753.7 1726.3 760.3 1728.6 763.7C1730.8 767.1 1732.8 768.0 1734.4 768.5C1736.0 768.5 1735.1 766.8 1738.3 766.6C1741.5 766.6 1749.5 766.6 1753.7 767.5C1757.9 768.6 1760.8 769.8 1763.4 773.3C1766.0 776.8 1767.3 782.3 1769.2 788.8C1771.1 795.2 1773.1 803.3 1775.0 812.0C1776.9 820.7 1778.9 831.3 1780.8 841.0C1782.7 850.7 1784.3 862.0 1786.6 870.0C1788.8 878.0 1791.4 886.1 1794.3 889.3C1797.2 889.3 1800.5 889.3 1804.0 889.3C1807.5 888.6 1812.0 888.0 1815.6 885.4C1819.1 882.8 1822.6 878.3 1825.3 873.8C1828.0 869.3 1830.7 870.3 1832.0 858.4C1833.0 846.5 1832.2 812.4 1833.0 802.3C1833.8 797.5 1835.6 797.5 1836.9 797.5C1838.2 798.1 1839.7 799.0 1840.7 806.2C1841.7 813.5 1841.6 830.0 1842.7 841.0C1843.8 852.0 1846.0 865.4 1847.5 872.0C1849.0 878.6 1850.2 878.4 1852.0 880.5C1853.8 882.6 1855.3 884.3 1858.0 884.5C1860.7 884.5 1866.3 882.0 1868.0 881.5"/>
<path stroke="#008000" d="M144.6 632.4C145.5 632.3 147.4 632.0 150.0 631.8C152.6 631.6 157.3 631.1 160.0 631.1C162.7 631.1 164.2 631.5 166.0 631.8C167.8 632.1 169.0 633.1 170.7 633.1C172.4 632.9 173.4 631.6 176.0 630.7C178.6 629.9 178.0 628.4 186.0 627.8C194.0 627.7 217.0 627.7 224.0 627.7C228.0 627.8 226.5 628.5 228.0 628.5C229.5 628.5 228.2 627.9 233.0 627.8C237.8 627.8 251.6 627.8 256.6 627.8C261.6 628.1 260.9 629.6 262.8 629.8C264.7 629.8 263.8 629.0 268.0 628.8C272.2 628.8 283.4 628.8 288.0 628.8C292.6 629.2 293.2 631.1 295.5 631.2C297.8 631.2 299.8 630.1 302.0 629.5C304.2 628.9 302.0 628.0 309.0 627.7C316.0 627.5 335.1 627.7 344.0 627.5C352.9 627.3 357.4 626.7 362.6 626.5C367.8 626.2 371.4 626.0 375.0 625.9C378.6 625.9 382.0 626.0 384.5 626.1C387.0 626.3 388.2 626.5 390.0 626.8C391.8 627.2 390.0 627.8 395.0 628.0C414.0 628.0 484.8 628.0 504.0 627.9C510.0 627.7 504.0 627.2 510.0 627.1C519.0 627.0 549.2 627.0 558.0 627.0C563.0 627.2 561.5 628.1 563.0 628.1C564.5 628.1 565.2 627.5 567.0 627.2C568.8 627.0 571.8 626.8 574.0 626.5C576.2 626.2 577.4 625.9 580.0 625.5C582.6 625.2 586.3 625.5 589.4 624.6C592.5 623.6 596.5 621.7 598.7 619.6C600.9 617.4 601.4 614.2 602.5 611.6C603.6 609.1 604.4 605.2 605.3 604.2C606.2 604.2 607.2 604.5 608.1 605.6C609.0 606.6 609.8 609.5 610.9 610.5C612.0 611.6 613.3 610.5 614.7 611.6C616.1 612.8 617.5 616.0 619.4 617.5C621.3 619.1 623.7 621.0 625.9 621.0C628.1 621.0 630.6 619.3 632.5 617.5C634.4 615.8 636.0 613.3 637.2 610.5C638.5 607.7 639.4 605.6 640.0 600.7C640.6 595.7 640.4 586.5 640.9 580.7C641.4 574.9 642.2 571.7 642.8 565.9C643.4 560.1 644.1 553.4 644.7 546.0C645.3 538.5 646.0 528.4 646.5 521.1C647.0 513.9 647.2 506.1 648.0 502.3C648.8 498.4 650.3 498.1 651.2 498.1C652.1 498.1 653.0 498.4 653.6 502.3C654.2 506.1 654.5 513.9 655.0 521.1C655.5 528.4 656.3 538.5 656.9 545.9C657.5 553.4 658.1 560.6 658.7 565.9C659.3 571.2 659.7 574.9 660.6 577.7C661.5 580.5 663.0 580.9 664.4 582.7C665.8 584.5 667.8 585.7 669.0 588.6C670.2 591.6 670.8 598.1 671.9 600.6C673.0 603.1 673.7 602.9 675.6 603.6C677.5 604.2 680.6 604.3 683.1 604.5C685.6 604.8 688.9 605.0 690.6 605.0C692.3 604.5 692.3 602.4 693.4 601.5C694.5 600.7 696.1 600.0 697.2 600.0C698.3 600.7 699.1 603.5 700.0 605.5C700.9 607.4 701.4 609.8 702.7 612.0C704.0 614.3 706.2 617.1 708.0 619.0C709.8 620.9 711.3 622.1 713.3 623.2C715.3 624.4 717.1 625.9 720.0 626.1C722.9 626.1 726.6 624.9 730.6 624.7C734.6 624.7 740.6 624.7 743.9 624.7C747.2 624.9 746.3 625.7 750.5 626.1C754.7 626.5 763.4 626.7 769.2 627.1C775.0 627.4 781.5 627.4 785.1 628.1C788.8 628.9 789.1 631.6 791.1 631.6C793.1 631.6 791.1 628.8 797.1 628.1C810.1 627.6 856.3 627.6 868.9 627.6C872.9 627.8 871.1 629.4 872.9 629.4C874.7 629.3 872.9 627.4 879.5 626.9C887.2 626.6 911.8 626.6 919.4 626.6C925.4 627.0 923.4 629.3 925.4 629.3C927.4 629.3 927.3 627.0 931.4 626.6C935.5 626.5 944.0 626.5 950.0 626.5C956.0 626.6 963.5 626.6 967.3 627.2C971.1 627.7 970.8 628.2 972.6 630.0C974.4 631.8 976.1 637.5 977.9 637.7C979.7 637.7 980.5 633.4 983.2 631.4C985.9 629.4 989.7 627.9 993.9 625.7C998.1 623.6 1004.3 619.1 1008.5 618.6C1012.7 618.6 1015.9 622.1 1019.2 622.8C1022.5 622.8 1025.6 622.8 1028.5 622.8C1031.4 623.3 1032.2 624.9 1036.4 625.7C1040.6 626.5 1048.6 627.6 1053.7 627.8C1058.8 627.8 1061.7 627.7 1067.0 627.0C1072.3 626.4 1079.7 624.4 1085.7 623.9C1091.7 623.9 1094.9 623.9 1102.9 623.9C1110.9 624.1 1127.3 624.4 1133.5 624.8C1139.7 625.2 1137.5 626.3 1140.2 626.3C1142.9 626.3 1147.9 625.0 1149.5 624.8C1150.0 624.8 1149.5 624.8 1150.0 624.8C1152.7 624.6 1161.6 624.8 1165.9 623.8C1170.2 622.1 1172.6 615.1 1175.9 614.9C1179.2 614.9 1181.6 621.6 1185.9 622.8C1190.2 622.8 1196.8 622.8 1201.8 621.8C1206.8 620.5 1212.5 618.7 1215.7 614.9C1218.9 611.1 1219.2 609.9 1220.7 598.9C1222.2 587.9 1223.4 567.4 1224.7 549.1C1226.0 530.9 1227.5 507.6 1228.7 489.4C1229.9 471.1 1230.9 454.6 1231.7 439.6C1232.5 424.7 1233.0 413.0 1233.7 399.7C1234.4 386.4 1234.4 368.0 1235.7 359.9C1237.0 351.8 1240.1 350.9 1241.6 350.9C1243.1 350.9 1243.8 351.8 1244.6 359.9C1245.4 368.0 1245.8 384.8 1246.6 399.7C1247.4 414.6 1248.4 431.2 1249.6 449.5C1250.8 467.8 1252.1 489.4 1253.6 509.3C1255.1 529.2 1256.9 553.1 1258.6 569.0C1260.2 584.9 1261.7 597.6 1263.5 604.9C1265.3 612.2 1266.5 609.8 1269.5 612.9C1272.5 616.0 1276.8 622.5 1281.5 623.8C1286.2 623.8 1292.4 620.8 1297.4 620.8C1302.4 620.8 1307.8 623.8 1311.4 623.8C1315.1 622.8 1317.5 617.9 1319.3 614.9C1321.1 611.9 1321.3 607.7 1322.3 605.5C1323.3 603.3 1324.2 601.6 1325.3 601.5C1326.3 601.5 1327.4 602.9 1328.6 605.0C1329.8 607.1 1331.2 611.4 1332.3 614.0C1333.4 616.6 1332.8 619.2 1335.3 620.8C1337.8 622.4 1343.5 623.8 1347.2 623.8C1350.9 620.1 1354.6 609.7 1357.2 598.9C1359.8 588.1 1361.4 574.0 1363.1 559.1C1364.8 544.2 1366.1 527.6 1367.1 509.3C1368.1 491.0 1368.6 469.4 1369.1 449.5C1369.6 429.6 1369.6 402.8 1370.1 389.8C1370.6 376.9 1371.3 371.8 1372.1 371.8C1372.9 371.8 1374.3 376.9 1375.1 389.8C1375.9 402.8 1376.4 429.6 1377.1 449.5C1377.8 469.4 1378.3 491.0 1379.1 509.3C1379.9 527.6 1380.9 546.5 1382.1 559.1C1383.3 571.7 1384.6 580.5 1386.1 585.0C1387.6 586.0 1389.7 585.0 1391.0 586.0C1392.3 589.3 1392.0 601.1 1394.0 604.9C1396.0 608.6 1400.0 608.6 1403.0 608.6C1406.0 608.1 1408.5 604.5 1411.7 602.1C1415.0 599.8 1419.1 594.9 1422.5 594.5C1425.9 594.5 1430.3 598.0 1432.3 600.0C1434.3 602.0 1433.0 606.5 1434.4 606.5C1435.8 603.6 1439.5 584.8 1440.9 582.6C1442.4 582.6 1442.2 589.2 1443.1 593.5C1444.0 597.8 1444.8 605.4 1446.4 608.6C1448.0 611.9 1450.4 613.0 1452.9 613.0C1455.4 613.0 1459.0 612.6 1461.5 608.6C1464.0 604.6 1465.5 594.9 1468.0 589.1C1470.5 583.3 1474.5 576.2 1476.7 574.0C1478.9 574.0 1479.5 576.1 1481.0 576.1C1482.5 575.7 1484.0 573.2 1485.4 571.8C1486.9 570.4 1488.6 570.0 1489.7 567.5C1490.8 565.0 1490.8 560.2 1491.9 556.6C1493.0 553.0 1494.9 548.0 1496.2 545.8C1497.5 543.6 1498.8 545.8 1499.5 543.6C1500.2 537.1 1500.0 520.2 1500.5 506.8C1501.0 493.4 1501.6 481.5 1502.7 463.4C1503.8 445.3 1505.5 415.7 1507.0 398.4C1508.5 381.1 1509.8 367.0 1511.4 359.4C1513.0 352.9 1515.5 356.1 1516.8 352.9C1518.1 349.6 1517.7 343.1 1519.0 339.9C1520.3 336.6 1522.6 333.4 1524.4 333.4C1526.2 333.4 1528.5 333.4 1529.8 339.9C1531.1 350.7 1531.3 379.3 1532.0 398.4C1532.7 417.5 1533.4 454.7 1534.1 454.7C1534.8 447.5 1535.4 372.7 1536.3 355.0C1537.2 348.5 1538.5 348.5 1539.6 348.5C1540.7 348.5 1541.9 348.5 1542.8 355.0C1543.7 370.5 1544.1 412.8 1545.0 441.7C1545.9 470.6 1546.9 508.5 1548.2 528.4C1549.5 548.3 1551.1 557.4 1552.6 561.0C1554.0 561.0 1555.5 559.0 1556.9 550.0C1558.3 541.0 1559.8 528.5 1561.2 506.8C1562.7 485.2 1564.3 440.0 1565.6 420.1C1566.9 400.2 1567.4 392.9 1568.8 387.5C1570.2 387.5 1572.9 387.5 1574.2 387.5C1575.5 390.0 1575.7 402.7 1576.4 402.7C1577.1 397.3 1577.9 366.9 1578.6 355.0C1579.2 343.1 1579.6 331.2 1580.3 331.2C1581.0 331.2 1581.9 340.2 1582.9 355.0C1583.9 369.8 1584.9 402.0 1586.2 420.1C1587.5 438.2 1589.1 454.4 1590.5 463.4C1591.9 472.4 1593.2 474.2 1594.8 474.2C1596.4 474.2 1598.5 472.4 1600.3 463.4C1602.1 454.4 1604.3 436.4 1605.7 420.1C1607.1 403.9 1607.8 383.2 1608.9 365.9C1610.0 348.5 1611.1 323.9 1612.2 316.0C1613.3 316.0 1614.5 316.0 1615.4 318.2C1616.3 326.5 1616.9 345.3 1617.6 365.9C1618.3 386.5 1618.9 418.2 1619.8 441.7C1620.7 465.2 1621.9 486.9 1623.0 506.8C1624.1 526.7 1625.0 546.5 1626.3 561.0C1627.6 575.5 1628.8 584.5 1630.6 593.5C1632.4 602.5 1635.1 611.3 1637.1 615.1C1639.1 616.3 1640.0 615.6 1642.7 616.3C1645.4 617.0 1649.3 619.5 1653.2 619.5C1657.1 617.8 1661.7 612.6 1665.9 605.8C1670.1 598.9 1674.7 587.2 1678.5 578.4C1682.3 569.6 1686.5 561.2 1689.0 553.1C1691.5 545.0 1691.9 534.8 1693.3 529.9C1694.7 525.0 1696.5 529.9 1697.5 523.5C1698.5 516.8 1698.9 502.4 1699.6 489.8C1700.3 477.2 1701.2 458.5 1701.7 447.6C1702.2 436.7 1701.8 429.0 1702.8 424.4C1703.8 420.2 1706.6 424.4 1708.0 420.2C1709.4 414.9 1710.0 395.3 1711.2 392.8C1712.4 392.8 1714.2 398.4 1715.4 405.4C1716.6 412.4 1717.0 424.4 1718.6 435.0C1720.2 445.6 1722.8 458.5 1724.9 468.7C1727.0 478.9 1728.9 489.2 1731.2 496.1C1733.5 503.0 1736.1 508.2 1738.6 509.8C1741.1 509.8 1743.4 507.4 1746.0 505.6C1748.6 503.9 1751.2 500.2 1754.4 499.3C1757.6 499.3 1762.2 499.3 1765.0 500.4C1767.8 502.3 1769.2 503.9 1771.3 510.9C1773.4 517.9 1775.5 530.2 1777.6 542.5C1779.7 554.8 1781.9 572.4 1784.0 584.7C1786.1 597.0 1787.8 608.9 1790.3 616.3C1792.8 623.7 1794.8 627.1 1798.7 629.0C1802.6 629.0 1809.3 629.0 1813.5 627.9C1817.7 625.8 1820.8 620.7 1824.0 616.3C1827.2 611.9 1830.9 610.4 1832.5 601.6C1833.5 592.8 1832.8 572.4 1833.5 563.6C1834.2 554.8 1835.5 549.6 1836.7 548.9C1837.9 548.9 1839.9 551.7 1840.9 559.4C1842.0 567.1 1842.0 585.8 1843.0 595.3C1844.0 604.8 1845.8 611.8 1847.2 616.3C1848.6 620.8 1849.9 620.5 1851.5 622.0C1853.1 623.5 1854.2 625.1 1857.0 625.5C1859.8 625.5 1866.2 624.7 1868.0 624.5"/>
<path stroke="#a000c8" d="M144.6 406.5C145.5 406.4 147.4 406.2 150.0 406.0C152.6 405.8 157.3 405.3 160.0 405.3C162.7 405.3 164.2 405.7 166.0 406.0C167.8 406.3 169.0 407.2 170.7 407.2C172.4 407.0 173.4 405.8 176.0 405.0C178.6 404.2 178.0 402.8 186.0 402.3C194.0 402.2 217.0 402.2 224.0 402.2C228.0 402.3 226.5 403.0 228.0 403.0C229.5 403.0 228.2 402.4 233.0 402.3C237.8 402.3 251.6 402.3 256.6 402.3C261.6 402.6 260.9 404.0 262.8 404.2C264.7 404.2 263.8 403.4 268.0 403.3C272.2 403.3 283.4 403.3 288.0 403.3C292.6 403.7 293.2 405.5 295.5 405.6C297.8 405.6 299.8 404.6 302.0 404.0C304.2 403.4 302.0 402.6 309.0 402.3C316.0 402.2 335.1 402.3 344.0 402.2C352.9 402.0 357.4 401.4 362.6 401.2C367.8 400.9 371.4 400.8 375.0 400.7C378.6 400.7 382.0 400.8 384.5 400.9C387.0 401.0 388.2 401.3 390.0 401.6C391.8 401.9 390.0 402.5 395.0 402.7C414.0 402.7 484.8 402.7 504.0 402.7C510.0 402.6 504.0 402.1 510.0 402.0C519.0 402.0 549.2 402.0 558.0 402.0C563.0 402.2 561.5 403.0 563.0 403.0C564.5 403.0 565.2 402.4 567.0 402.2C568.8 401.9 571.8 401.8 574.0 401.5C576.2 401.2 577.4 400.9 580.0 400.6C582.6 400.3 586.3 400.6 589.4 399.7C592.5 398.8 596.5 397.0 598.7 395.0C600.9 393.0 601.4 389.9 602.5 387.5C603.6 385.1 604.4 381.4 605.3 380.5C606.2 380.5 607.2 380.8 608.1 381.8C609.0 382.8 609.8 385.6 610.9 386.5C612.0 387.4 613.3 386.5 614.7 387.5C616.1 388.6 617.5 391.6 619.4 393.1C621.3 394.6 623.7 396.4 625.9 396.4C628.1 396.4 630.6 394.8 632.5 393.1C634.4 391.5 636.0 389.1 637.2 386.5C638.5 383.9 639.4 381.9 640.0 377.2C640.6 372.5 640.4 363.9 640.9 358.4C641.4 352.9 642.2 349.9 642.8 344.4C643.4 338.9 644.1 332.6 644.7 325.6C645.3 318.6 646.0 309.1 646.5 302.2C647.0 295.3 647.2 288.0 648.0 284.4C648.8 280.8 650.3 280.5 651.2 280.5C652.1 280.5 653.0 280.8 653.6 284.4C654.2 288.0 654.5 295.3 655.0 302.2C655.5 309.1 656.3 318.6 656.9 325.6C657.5 332.6 658.1 339.4 658.7 344.4C659.3 349.4 659.7 353.0 660.6 355.6C661.5 358.2 663.0 358.6 664.4 360.3C665.8 362.0 667.8 363.1 669.0 365.9C670.2 368.7 670.8 374.8 671.9 377.2C673.0 379.6 673.7 379.4 675.6 380.0C677.5 380.6 680.6 380.7 683.1 380.9C685.6 381.1 688.9 381.4 690.6 381.4C692.3 380.9 692.3 378.9 693.4 378.1C694.5 377.3 696.1 376.7 697.2 376.7C698.3 377.3 699.1 379.9 700.0 381.8C700.9 383.7 701.4 385.9 702.7 388.0C704.0 390.1 706.2 392.8 708.0 394.6C709.8 396.4 711.3 397.5 713.3 398.6C715.3 399.7 717.1 401.1 720.0 401.3C722.9 401.3 726.6 400.2 730.6 400.0C734.6 400.0 740.6 400.0 743.9 400.0C747.2 400.2 746.3 400.9 750.5 401.3C754.7 401.7 763.4 402.0 769.2 402.3C775.0 402.6 781.5 402.6 785.1 403.3C788.8 404.0 789.1 406.6 791.1 406.6C793.1 406.6 791.1 403.9 797.1 403.3C810.1 402.9 856.3 402.9 868.9 402.9C872.9 403.1 871.1 404.6 872.9 404.6C874.7 404.5 872.9 402.7 879.5 402.3C887.2 402.0 911.8 402.0 919.4 402.0C925.4 402.4 923.4 404.6 925.4 404.6C927.4 404.6 927.3 402.4 931.4 402.0C935.5 402.0 944.0 402.0 950.0 402.0C956.0 402.1 963.5 402.1 967.3 402.6C971.1 403.2 970.8 403.6 972.6 405.3C974.4 407.0 976.1 412.4 977.9 412.6C979.7 412.6 980.5 408.5 983.2 406.6C985.9 404.7 989.7 403.3 993.9 401.3C998.1 399.3 1004.3 395.1 1008.5 394.6C1012.7 394.6 1015.9 397.9 1019.2 398.6C1022.5 398.6 1025.6 398.6 1028.5 398.6C1031.4 399.1 1032.2 400.5 1036.4 401.3C1040.6 402.1 1048.6 403.1 1053.7 403.3C1058.8 403.3 1061.7 403.2 1067.0 402.6C1072.3 402.0 1079.7 400.2 1085.7 399.7C1091.7 399.7 1094.9 399.7 1102.9 399.7C1110.9 399.9 1127.3 400.2 1133.5 400.6C1139.7 401.0 1137.5 402.0 1140.2 402.0C1142.9 402.0 1147.9 400.9 1149.5 400.6C1150.0 400.5 1149.5 400.6 1150.0 400.5C1153.1 400.3 1164.0 400.5 1168.1 399.3C1172.2 397.7 1173.0 392.4 1174.8 391.0C1176.6 390.6 1176.8 390.6 1178.8 390.6C1180.8 391.5 1184.3 395.5 1186.7 396.6C1189.1 397.3 1190.3 397.3 1193.4 397.3C1196.5 397.1 1202.6 396.0 1205.4 395.3C1208.2 394.6 1208.3 394.3 1210.0 393.3C1211.7 392.3 1214.1 393.3 1215.7 389.5C1217.3 385.4 1218.0 380.6 1219.7 368.8C1221.4 357.1 1223.9 337.2 1225.7 319.0C1227.5 300.8 1229.4 277.6 1230.7 259.3C1232.0 241.1 1232.9 224.4 1233.7 209.5C1234.5 194.6 1235.1 179.9 1235.7 169.6C1236.3 159.3 1236.8 151.8 1237.6 147.7C1238.4 144.7 1239.6 144.7 1240.6 144.7C1241.6 145.7 1242.8 147.9 1243.6 153.7C1244.4 159.5 1244.8 167.0 1245.6 179.6C1246.4 192.2 1247.4 212.8 1248.6 229.4C1249.8 246.0 1251.1 260.9 1252.6 279.2C1254.1 297.5 1255.9 322.4 1257.6 339.0C1259.2 355.6 1260.5 370.2 1262.5 378.8C1264.5 387.4 1266.3 387.2 1269.5 390.8C1272.7 394.4 1276.8 399.7 1281.5 400.7C1286.2 400.7 1292.4 396.7 1297.4 396.7C1302.4 396.7 1307.8 400.7 1311.4 400.7C1315.1 400.0 1317.5 396.1 1319.3 392.7C1321.1 389.3 1321.3 383.3 1322.3 380.5C1323.3 377.7 1324.2 376.2 1325.3 376.0C1326.3 376.0 1327.4 377.2 1328.6 379.5C1329.8 381.8 1331.2 387.1 1332.3 390.0C1333.4 392.9 1333.5 395.1 1335.3 396.7C1337.1 398.3 1340.9 399.5 1343.2 399.7C1345.5 399.7 1346.9 399.7 1349.2 397.7C1351.5 393.6 1354.7 384.6 1357.2 374.8C1359.7 365.0 1362.3 354.9 1364.1 339.0C1365.9 323.1 1367.3 299.1 1368.1 279.2C1368.9 259.3 1368.8 239.3 1369.1 219.4C1369.4 199.5 1369.6 171.6 1370.1 159.7C1370.6 147.8 1371.4 147.7 1372.1 147.7C1372.8 147.7 1373.4 147.8 1374.1 159.7C1374.8 171.6 1375.4 199.5 1376.1 219.4C1376.8 239.3 1377.1 259.3 1378.1 279.2C1379.1 299.1 1380.9 326.1 1382.1 339.0C1383.3 351.9 1383.6 353.6 1385.1 356.9C1386.6 358.9 1389.5 356.9 1391.0 358.9C1392.5 362.5 1392.7 374.5 1394.0 378.8C1395.3 383.1 1397.2 383.8 1399.0 384.8C1400.8 384.8 1402.3 384.8 1405.0 384.8C1407.7 383.5 1411.7 379.0 1415.0 376.8C1418.3 374.6 1422.1 372.5 1424.9 371.8C1427.7 371.8 1430.2 371.8 1431.9 372.8C1433.6 374.3 1433.7 380.8 1434.9 380.8C1436.1 378.5 1437.8 362.5 1439.0 358.9C1440.2 358.9 1441.0 358.9 1442.0 358.9C1443.0 362.5 1443.2 376.3 1444.9 380.8C1446.6 385.3 1449.4 385.5 1451.9 385.8C1454.4 385.8 1457.6 385.8 1459.9 382.8C1462.2 379.0 1463.2 369.9 1465.9 362.9C1468.6 355.9 1473.2 345.1 1475.8 341.0C1478.4 338.0 1479.5 338.0 1481.8 338.0C1484.1 339.0 1487.8 346.4 1489.8 346.9C1491.8 346.9 1492.9 345.9 1493.7 341.0C1494.4 336.1 1493.7 322.0 1494.4 317.6C1495.5 314.7 1499.1 317.6 1500.3 314.7C1501.5 302.0 1501.0 261.0 1501.7 241.5C1502.4 222.0 1503.6 210.9 1504.6 197.5C1505.6 184.1 1506.9 168.2 1507.6 160.9C1508.3 153.6 1508.0 154.3 1509.0 153.6C1510.0 153.6 1512.7 156.5 1513.4 156.5C1513.4 154.8 1513.4 145.7 1513.4 143.3C1514.4 141.9 1518.3 143.3 1519.3 141.9C1519.3 137.8 1519.3 123.9 1519.3 118.4C1520.4 112.9 1524.3 109.1 1525.9 108.9C1527.5 108.9 1528.0 108.9 1528.8 117.0C1529.6 137.2 1530.3 222.8 1531.0 230.0C1531.7 230.0 1532.5 160.0 1533.0 160.0C1533.5 160.8 1533.4 235.0 1534.0 235.0C1534.6 230.2 1535.8 136.8 1536.6 131.0C1537.3 131.0 1537.8 200.0 1538.5 200.0C1539.2 198.9 1539.8 134.5 1540.5 124.3C1541.2 124.3 1542.1 124.3 1542.7 138.9C1543.3 153.6 1543.7 187.8 1544.2 212.2C1544.7 236.6 1545.1 270.3 1545.7 285.4C1546.3 300.5 1546.7 295.6 1547.9 303.0C1549.1 310.4 1551.7 325.1 1553.0 330.0C1554.3 332.3 1554.7 332.3 1555.9 332.3C1557.1 327.3 1559.1 315.1 1560.3 300.0C1561.5 284.9 1562.2 259.8 1563.2 241.5C1564.2 223.2 1565.2 200.5 1566.2 190.2C1567.2 179.9 1568.2 181.4 1569.4 179.6C1570.6 179.6 1572.2 179.6 1573.4 179.6C1574.6 182.2 1575.6 195.5 1576.4 195.5C1577.2 192.2 1577.7 172.3 1578.4 159.7C1579.1 147.1 1579.7 126.4 1580.4 119.8C1581.1 119.8 1581.7 119.8 1582.4 119.8C1583.1 129.8 1583.6 163.0 1584.4 179.6C1585.2 196.2 1586.2 207.8 1587.4 219.4C1588.6 231.0 1590.1 243.2 1591.4 249.3C1592.7 255.5 1594.0 256.0 1595.3 256.3C1596.6 256.3 1598.0 255.8 1599.3 251.3C1600.6 246.8 1602.0 241.4 1603.3 229.4C1604.6 217.4 1606.1 197.9 1607.3 179.6C1608.5 161.3 1609.3 133.9 1610.3 119.8C1611.3 105.7 1612.3 97.6 1613.3 94.9C1614.3 94.9 1615.5 94.9 1616.3 103.9C1617.1 114.7 1617.5 140.4 1618.2 159.7C1618.9 178.9 1619.4 199.5 1620.2 219.4C1621.0 239.3 1622.0 260.9 1623.2 279.2C1624.4 297.5 1625.9 315.7 1627.2 329.0C1628.5 342.3 1629.5 349.6 1631.2 358.9C1632.9 368.2 1634.9 378.8 1637.2 384.8C1639.5 390.8 1642.1 393.1 1645.1 394.7C1648.1 394.7 1651.6 394.7 1655.1 394.7C1658.6 392.7 1662.4 387.4 1665.9 382.8C1669.4 378.2 1672.6 374.2 1675.9 366.9C1679.2 359.6 1683.2 345.0 1685.8 339.0C1688.4 333.0 1690.5 336.0 1691.8 331.0C1693.1 326.0 1692.8 313.4 1693.8 309.1C1694.8 305.1 1696.8 308.4 1697.8 305.1C1698.8 301.8 1699.1 303.5 1699.8 289.2C1700.5 274.9 1701.3 233.7 1701.8 219.4C1702.3 205.1 1701.9 206.8 1702.7 203.5C1703.5 200.2 1705.5 201.5 1706.7 199.5C1707.9 197.5 1708.7 191.9 1709.7 191.6C1710.7 191.6 1711.7 193.5 1712.7 197.5C1713.7 201.5 1714.2 209.2 1715.7 215.5C1717.2 221.8 1719.7 227.4 1721.7 235.4C1723.7 243.4 1725.6 255.3 1727.6 263.3C1729.6 271.3 1731.4 278.6 1733.6 283.2C1735.8 287.8 1738.3 290.4 1740.6 291.2C1742.9 291.2 1745.3 289.9 1747.6 288.2C1749.9 286.5 1752.4 282.7 1754.5 281.2C1756.6 279.7 1757.8 279.0 1760.0 279.0C1762.2 279.1 1765.2 279.3 1767.5 282.0C1769.8 284.7 1771.5 288.3 1773.5 295.1C1775.5 301.9 1777.6 312.4 1779.4 323.0C1781.2 333.6 1782.4 348.3 1784.4 358.9C1786.4 369.5 1788.9 379.7 1791.4 386.8C1793.9 393.9 1796.1 399.4 1799.4 401.7C1802.7 401.7 1807.7 401.7 1811.3 400.7C1814.9 399.4 1818.0 397.7 1821.3 393.7C1824.6 389.7 1829.4 385.9 1831.2 376.8C1832.2 367.7 1831.4 348.1 1832.2 339.0C1833.0 329.9 1834.9 323.3 1836.2 322.0C1837.5 322.0 1839.2 323.2 1840.2 331.0C1841.2 338.8 1841.0 359.4 1842.2 368.8C1843.4 378.2 1845.7 383.1 1847.2 387.5C1848.8 391.9 1849.9 393.0 1851.5 395.0C1853.1 397.0 1854.2 398.7 1857.0 399.3C1859.8 399.3 1866.2 398.6 1868.0 398.5"/>
</g>
<g fill="#000">
<rect x="1545.0" y="84.4" width="11.0" height="39.5"/>
<rect x="1545.0" y="159.3" width="11.0" height="40.0"/>
<rect x="1545.0" y="234.8" width="11.0" height="40.0"/>
<rect x="1545.0" y="310.2" width="11.0" height="40.0"/>
<rect x="1545.0" y="385.7" width="11.0" height="40.0"/>
<rect x="1545.0" y="461.1" width="11.0" height="40.0"/>
<rect x="1545.0" y="536.6" width="11.0" height="40.0"/>
<rect x="1545.0" y="612.0" width="11.0" height="40.0"/>
<rect x="1545.0" y="687.5" width="11.0" height="40.0"/>
<rect x="1545.0" y="762.9" width="11.0" height="40.0"/>
<rect x="1545.0" y="838.4" width="11.0" height="40.0"/>
<rect x="1545.0" y="913.8" width="11.0" height="40.0"/>
<rect x="1545.0" y="989.3" width="11.0" height="40.0"/>
<rect x="1545.0" y="1064.7" width="11.0" height="40.0"/>
<rect x="1545.0" y="1140.1" width="11.0" height="40.0"/>
<rect x="1545.0" y="1215.6" width="11.0" height="40.0"/>
<rect x="1545.0" y="1291.0" width="11.0" height="40.0"/>
<rect x="1545.0" y="1366.5" width="11.0" height="24.2"/>
<rect x="1545.0" y="136.4" width="11.0" height="10.8"/>
<rect x="1545.0" y="211.9" width="11.0" height="10.8"/>
<rect x="1545.0" y="287.3" width="11.0" height="10.8"/>
<rect x="1545.0" y="362.8" width="11.0" height="10.8"/>
<rect x="1545.0" y="438.2" width="11.0" height="10.8"/>
<rect x="1545.0" y="513.6" width="11.0" height="10.8"/>
<rect x="1545.0" y="589.1" width="11.0" height="10.8"/>
<rect x="1545.0" y="664.5" width="11.0" height="10.8"/>
<rect x="1545.0" y="740.0" width="11.0" height="10.8"/>
<rect x="1545.0" y="815.5" width="11.0" height="10.8"/>
<rect x="1545.0" y="890.9" width="11.0" height="10.8"/>
<rect x="1545.0" y="966.4" width="11.0" height="10.8"/>
<rect x="1545.0" y="1041.8" width="11.0" height="10.8"/>
<rect x="1545.0" y="1117.2" width="11.0" height="10.8"/>
<rect x="1545.0" y="1192.7" width="11.0" height="10.8"/>
<rect x="1545.0" y="1268.2" width="11.0" height="10.8"/>
<rect x="1545.0" y="1343.6" width="11.0" height="10.8"/>
<rect x="1755.2" y="99.9" width="10.7" height="40.0"/>
<rect x="1755.2" y="175.4" width="10.7" height="40.0"/>
<rect x="1755.2" y="250.8" width="10.7" height="40.0"/>
<rect x="1755.2" y="326.2" width="10.7" height="40.0"/>
<rect x="1755.2" y="401.7" width="10.7" height="40.0"/>
<rect x="1755.2" y="477.1" width="10.7" height="40.0"/>
<rect x="1755.2" y="552.6" width="10.7" height="40.0"/>
<rect x="1755.2" y="628.0" width="10.7" height="40.0"/>
<rect x="1755.2" y="703.5" width="10.7" height="40.0"/>
<rect x="1755.2" y="779.0" width="10.7" height="40.0"/>
<rect x="1755.2" y="854.4" width="10.7" height="40.0"/>
<rect x="1755.2" y="929.9" width="10.7" height="40.0"/>
<rect x="1755.2" y="1005.3" width="10.7" height="40.0"/>
<rect x="1755.2" y="1080.8" width="10.7" height="40.0"/>
<rect x="1755.2" y="1156.2" width="10.7" height="40.0"/>
<rect x="1755.2" y="1231.7" width="10.7" height="40.0"/>
<rect x="1755.2" y="1307.1" width="10.7" height="40.0"/>
<rect x="1755.2" y="152.1" width="10.7" height="10.8"/>
<rect x="1755.2" y="227.6" width="10.7" height="10.8"/>
<rect x="1755.2" y="303.0" width="10.7" height="10.8"/>
<rect x="1755.2" y="378.5" width="10.7" height="10.8"/>
<rect x="1755.2" y="453.9" width="10.7" height="10.8"/>
<rect x="1755.2" y="529.4" width="10.7" height="10.8"/>
<rect x="1755.2" y="604.8" width="10.7" height="10.8"/>
<rect x="1755.2" y="680.2" width="10.7" height="10.8"/>
<rect x="1755.2" y="755.7" width="10.7" height="10.8"/>
<rect x="1755.2" y="831.2" width="10.7" height="10.8"/>
<rect x="1755.2" y="906.6" width="10.7" height="10.8"/>
<rect x="1755.2" y="982.1" width="10.7" height="10.8"/>
<rect x="1755.2" y="1057.5" width="10.7" height="10.8"/>
<rect x="1755.2" y="1133.0" width="10.7" height="10.8"/>
<rect x="1755.2" y="1208.4" width="10.7" height="10.8"/>
<rect x="1755.2" y="1283.8" width="10.7" height="10.8"/>
<rect x="1755.2" y="1359.3" width="10.7" height="10.8"/>
<rect x="1545.0" y="84.4" width="39.4" height="10.5"/>
<rect x="1596.9" y="84.4" width="11.0" height="10.5"/>
<rect x="1620.2" y="84.4" width="40.7" height="10.5"/>
<rect x="1672.3" y="84.4" width="11.5" height="10.5"/>
<rect x="1696.2" y="84.4" width="39.8" height="10.5"/>
<rect x="1748.2" y="84.4" width="10.9" height="10.5"/>
<rect x="1545.0" y="1379.5" width="14.9" height="11.2"/>
<rect x="1571.2" y="1379.5" width="40.6" height="11.2"/>
<rect x="1623.1" y="1379.5" width="12.0" height="11.2"/>
<rect x="1647.0" y="1379.5" width="39.9" height="11.2"/>
<rect x="1699.2" y="1379.5" width="10.8" height="11.2"/>
<rect x="1722.2" y="1379.5" width="39.9" height="11.2"/>
</g>
<g fill="#000" stroke="#fff" stroke-width="2.0">
<text font-size="120" transform="translate(315.92 361.88) scale(1.0627 0.9582)">e</text>
<text font-size="120" transform="translate(313.92 597.82) scale(0.9410 1.0091)">d</text>
<text font-size="120" transform="translate(321.23 850.78) scale(1.0222 0.9530)">c</text>
<text font-size="120" transform="translate(315.90 1090.82) scale(0.9219 1.0079)">b</text>
<text font-size="120" transform="translate(303.20 1310.78) scale(1.1371 0.9568)">a</text>
</g>
<g fill="#000" stroke="#000" stroke-width="0.8">
<text font-size="97" transform="translate(602.31 1658.30) scale(0.5015 1.0000)" font-weight="bold">W</text>
<text font-size="97" transform="translate(648.07 1658.30) scale(1.1222 1.0000)">a</text>
<text font-size="97" transform="translate(698.00 1658.30) scale(0.8515 1.0000)">v</text>
<text font-size="97" transform="translate(742.21 1658.30) scale(1.0529 1.0000)">e</text>
<text font-size="97" transform="translate(834.91 1658.30) scale(0.9396 1.0000)">n</text>
<text font-size="97" transform="translate(880.77 1658.30) scale(0.9635 1.0000)">u</text>
<text font-size="97" transform="translate(925.61 1658.30) scale(0.6115 1.0000)" font-weight="bold">m</text>
<text font-size="97" transform="translate(974.80 1658.30) scale(0.9128 1.0000)">b</text>
<text font-size="97" transform="translate(1020.61 1658.30) scale(1.0529 1.0000)">e</text>
<text font-size="97" transform="translate(1065.24 1658.30) scale(1.4234 1.0000)">r</text>
<text font-size="97" transform="translate(1206.09 1658.30) scale(1.0034 1.0000)">c</text>
<text font-size="97" transform="translate(1249.48 1658.30) scale(0.6219 1.0000)" font-weight="bold">m</text>
<text font-size="97" transform="translate(1173.58 1647.04) scale(0.9674 0.9425)">(</text>
<text font-size="97" transform="translate(1361.38 1647.04) scale(0.9674 0.9425)">)</text>
</g>
<g fill="#000">
<text font-size="97" transform="translate(1296.33 1634.18) scale(0.6358 1.0971)">−</text>
<text font-size="97" transform="translate(1330.51 1620.30) scale(0.5974 0.6715)">1</text>
</g>
<g fill="#000" stroke="#000" stroke-width="0.8">
<text font-size="98" transform="translate(96.90 928.00) rotate(-90) translate(-0.64 0) scale(0.6672 1.0000)">A</text>
<text font-size="98" transform="translate(96.90 879.70) rotate(-90) translate(-0.00 0) scale(0.9234 1.0000)">b</text>
<text font-size="98" transform="translate(96.90 827.00) rotate(-90) translate(-4.34 0) scale(1.0792 1.0000)">s</text>
<text font-size="98" transform="translate(96.90 785.20) rotate(-90) translate(-3.62 0) scale(0.9703 1.0000)">o</text>
<text font-size="98" transform="translate(96.90 739.80) rotate(-90) translate(-2.75 0) scale(1.4021 1.0000)">r</text>
<text font-size="98" transform="translate(96.90 693.50) rotate(-90) translate(-0.00 0) scale(0.8991 1.0000)">b</text>
<text font-size="98" transform="translate(86.31 583.90) rotate(-90) translate(-4.09 0) scale(0.9495 0.9340)">(</text>
<text font-size="98" transform="translate(96.73 555.80) rotate(-90) translate(-2.01 0) scale(0.6005 0.9825)">%</text>
<text font-size="98" transform="translate(86.31 507.30) rotate(-90) translate(-3.17 0) scale(1.0052 0.9340)">)</text>
</g>
</svg></body></html>
